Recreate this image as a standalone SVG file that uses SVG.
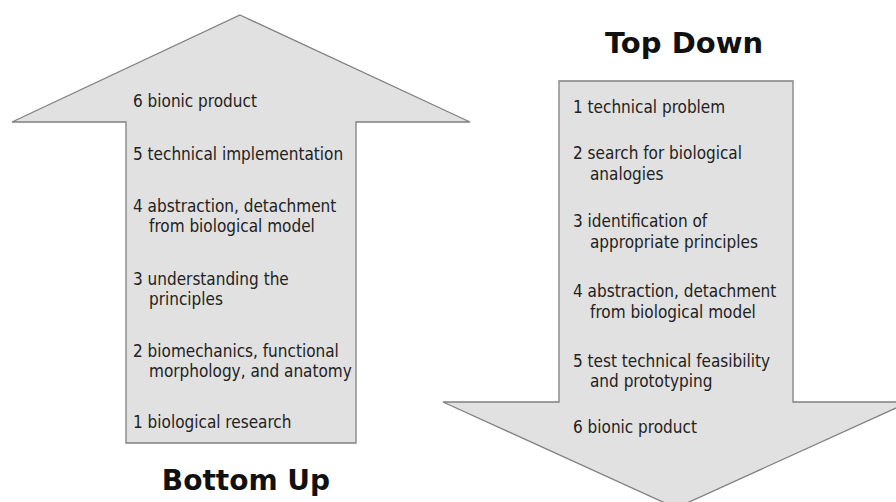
<svg xmlns="http://www.w3.org/2000/svg" width="896" height="502" viewBox="0 0 896 502">
<style>
.arrow{fill:#e1e1e1;stroke:#808080;stroke-width:1.3}
.t{font-family:"DejaVu Sans Condensed","DejaVu Sans",sans-serif;font-size:17px;fill:#222}
.h{font-family:"DejaVu Sans","Verdana",sans-serif;font-weight:bold;font-size:28px;fill:#111;text-anchor:middle}
</style>
<rect width="896" height="502" fill="#fff"/>
<g id="bottom-up">
<polygon class="arrow" points="240,15 470,122 356,122 356,443 126,443 126,122 12,122"/>
<text class="t" x="133" y="107">6 bionic product</text>
<text class="t" x="133" y="160">5 technical implementation</text>
<text class="t" x="133" y="212">4 abstraction, detachment</text>
<text class="t" x="149" y="232">from biological model</text>
<text class="t" x="133" y="285">3 understanding the</text>
<text class="t" x="149" y="305">principles</text>
<text class="t" x="133" y="357">2 biomechanics, functional</text>
<text class="t" x="149" y="377">morphology, and anatomy</text>
<text class="t" x="133" y="428">1 biological research</text>
<text class="h" x="246" y="490">Bottom Up</text>
</g>
<g id="top-down">
<polygon class="arrow" points="559,81 793,81 793,402 909,402 676,508 443,402 559,402"/>
<text class="t" x="573" y="113">1 technical problem</text>
<text class="t" x="573" y="159">2 search for biological</text>
<text class="t" x="590" y="180">analogies</text>
<text class="t" x="573" y="227">3 identification of</text>
<text class="t" x="590" y="248">appropriate principles</text>
<text class="t" x="573" y="297">4 abstraction, detachment</text>
<text class="t" x="590" y="318">from biological model</text>
<text class="t" x="573" y="367">5 test technical feasibility</text>
<text class="t" x="590" y="387">and prototyping</text>
<text class="t" x="573" y="433">6 bionic product</text>
<text class="h" x="684" y="53" style="font-size:29px">Top Down</text>
</g>
<g id="connectors"></g>
</svg>
